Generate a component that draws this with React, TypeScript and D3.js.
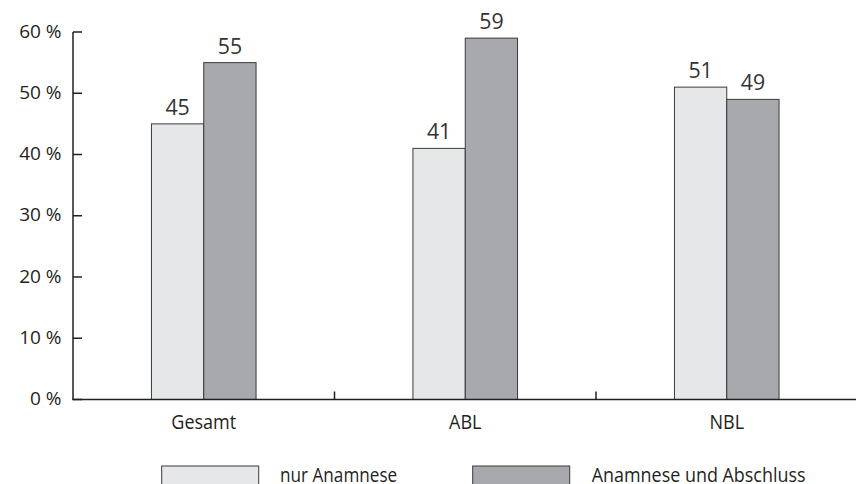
import React from "react";
import * as d3 from "d3";

const categories = ["Gesamt", "ABL", "NBL"];
const seriesNames = ["nur Anamnese", "Anamnese und Abschluss"];
const nurAnamnese = [45, 41, 51];
const anamneseUndAbschluss = [55, 59, 49];
const yTicks = [0, 10, 20, 30, 40, 50, 60];

const W = 856;
const H = 484;
const FONT = "'Open Sans', 'Noto Sans', sans-serif";
const COLORS = ["#e6e7e8", "#a7a9ac"];
const STROKE = "#3a3a3a";
const INK = "#231f20";

type TProps = {
  x: number;
  y: number;
  size: number;
  sx?: number;
  anchor?: "start" | "middle" | "end";
  fill?: string;
  children: React.ReactNode;
};

function T({ x, y, size, sx = 1, anchor = "start", fill = INK, children }: TProps) {
  return (
    <text
      transform={`translate(${x},${y}) scale(${sx},1)`}
      textAnchor={anchor}
      fontSize={size}
      fill={fill}
    >
      {children}
    </text>
  );
}

export default function App() {
  const left = 73;
  const right = 857.5;
  const top = 32;
  const bottom = 399.5;

  const y = d3.scaleLinear().domain([0, 60]).range([bottom, top]);
  const x0 = d3.scaleBand<string>().domain(categories).range([left, right]).padding(0);
  const groupW = x0.bandwidth() * 0.4;
  const x1 = d3.scaleBand<string>().domain(seriesNames).range([0, groupW]).padding(0);
  const series = [nurAnamnese, anamneseUndAbschluss];

  return (
    <svg
      width={W}
      height={H}
      style={{ position: "absolute", left: 0, top: 0, display: "block", background: "#fff" }}
      fontFamily={FONT}
    >
      {/* bars */}
      {categories.map((c, ci) => {
        const gx = (x0(c) as number) + (x0.bandwidth() - groupW) / 2;
        return (
          <g key={c}>
            {series.map((s, si) => {
              const v = s[ci];
              const bx = gx + (x1(seriesNames[si]) as number);
              return (
                <g key={si}>
                  <rect
                    x={bx}
                    y={y(v)}
                    width={x1.bandwidth()}
                    height={bottom - y(v)}
                    fill={COLORS[si]}
                    stroke={STROKE}
                    strokeWidth={1}
                  />
                  <T x={bx + x1.bandwidth() / 2} y={y(v) - 9} size={22} sx={0.97} anchor="middle" fill="#333">
                    {v}
                  </T>
                </g>
              );
            })}
          </g>
        );
      })}

      {/* y axis */}
      <line x1={left} x2={left} y1={top} y2={bottom} stroke={INK} strokeWidth={1.5} />
      {yTicks.map((t) => (
        <g key={t}>
          <line x1={left} x2={left + 9} y1={y(t)} y2={y(t)} stroke={INK} strokeWidth={1.5} />
          <T x={61.5} y={y(t) + 5.5} size={19} sx={1} anchor="end">
            {`${t} %`}
          </T>
        </g>
      ))}

      {/* x axis */}
      <line x1={left - 0.75} x2={W} y1={bottom} y2={bottom} stroke={INK} strokeWidth={1.5} />
      {categories.slice(1).map((c) => (
        <line
          key={c}
          x1={x0(c) as number}
          x2={x0(c) as number}
          y1={bottom}
          y2={bottom - 8}
          stroke={INK}
          strokeWidth={1.5}
        />
      ))}
      {categories.map((c) => (
        <T key={c} x={(x0(c) as number) + x0.bandwidth() / 2} y={429.3} size={20.5} sx={0.88} anchor="middle">
          {c}
        </T>
      ))}

      {/* legend */}
      {seriesNames.map((n, i) => {
        const lx = [161.7, 472.7][i];
        const tx = [280, 591.7][i];
        const sx = [0.88, 0.92][i];
        return (
          <g key={n}>
            <rect x={lx} y={466} width={97} height={30} fill={COLORS[i]} stroke={STROKE} strokeWidth={1} />
            <T x={tx} y={481.5} size={19.5} sx={sx}>
              {n}
            </T>
          </g>
        );
      })}
    </svg>
  );
}
